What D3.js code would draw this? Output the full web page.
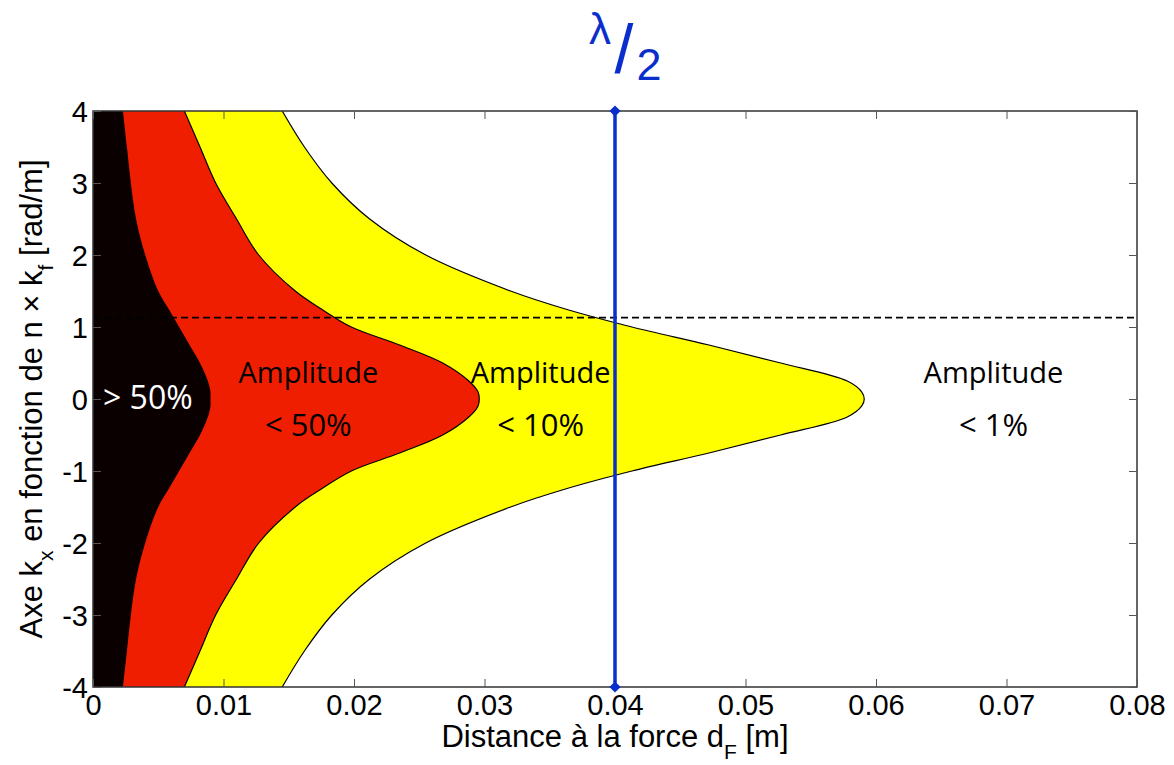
<!DOCTYPE html>
<html><head><meta charset="utf-8">
<script src="https://cdn.jsdelivr.net/npm/d3@7"></script>
<style>body{margin:0;background:#fff}svg{display:block}</style>
</head><body>
<svg id="c" width="1174" height="765"></svg>
<script>
// ---- data ----
const kValues = [-4,-3.5,-3,-2.5,-2,-1.5,-1.25,-1,-0.75,-0.5,-0.25,-0.1,0,0.1,0.25,0.5,0.75,1,1.25,1.5,2,2.5,3,3.5,4];
// boundary between >50% (black) and <50% (red)
const border50 = [0.0023,0.0026,0.0029,0.0033,0.0040,0.0050,0.0058,0.0066,0.0074,0.0082,0.0088,0.0090,0.0090,0.0090,0.0088,0.0082,0.0074,0.0066,0.0058,0.0050,0.0040,0.0033,0.0029,0.0026,0.0023];
// boundary between <50% (red) and <10% (yellow)
const border10 = [0.0070,0.0082,0.0094,0.0110,0.0127,0.0155,0.0175,0.0198,0.0235,0.0268,0.0288,0.0295,0.0296,0.0295,0.0288,0.0268,0.0235,0.0198,0.0175,0.0155,0.0127,0.0110,0.0094,0.0082,0.0070];
// boundary between <10% (yellow) and <1% (white)
const border1 = [0.0145,0.0162,0.0183,0.0212,0.0255,0.0320,0.0362,0.0413,0.0472,0.0527,0.0578,0.0589,0.0591,0.0589,0.0578,0.0527,0.0472,0.0413,0.0362,0.0320,0.0255,0.0212,0.0183,0.0162,0.0145];
const xTicks = [0,0.01,0.02,0.03,0.04,0.05,0.06,0.07,0.08];
const yTicks = [-4,-3,-2,-1,0,1,2,3,4];
const halfWave = 0.04;      // lambda/2
const kLimit = 1.13;        // dashed line
const regionLabels = [
  {x:0.0042, lines:["> 50%"], color:"#fff"},
  {x:0.0165, lines:["Amplitude","< 50%"], color:"#000"},
  {x:0.0343, lines:["Amplitude","< 10%"], color:"#000"},
  {x:0.0690, lines:["Amplitude","< 1%"], color:"#000"}
];

// ---- layout ----
const L=93, R=1137, T=111, B=687;
const svg = d3.select("#c");
const x = d3.scaleLinear().domain([0,0.08]).range([L,R]);
const y = d3.scaleLinear().domain([-4,4]).range([B,T]);

const defs = svg.append("defs");
defs.append("clipPath").attr("id","plot").append("rect").attr("x",L).attr("y",T).attr("width",R-L).attr("height",B-T);
const g = svg.append("g").attr("clip-path","url(#plot)");

function region(vals){
  return d3.area().curve(d3.curveCatmullRom.alpha(0.5))
    .y(d=>y(d.k)).x0(x(0)).x1(d=>x(d.v))(kValues.map((k,i)=>({k,v:vals[i]})));
}
function edge(vals){
  return d3.line().curve(d3.curveCatmullRom.alpha(0.5))
    .y(d=>y(d.k)).x(d=>x(d.v))(kValues.map((k,i)=>({k,v:vals[i]})));
}
g.append("path").attr("d",region(border1)).attr("fill","#ffff00");
g.append("path").attr("d",region(border10)).attr("fill","#f01e00");
g.append("path").attr("d",region(border50)).attr("fill","#0b0000");
g.append("path").attr("d",edge(border1)).attr("fill","none").attr("stroke","#000").attr("stroke-width",1.2);
g.append("path").attr("d",edge(border10)).attr("fill","none").attr("stroke","#000").attr("stroke-width",1.2);

// dashed line
g.append("line").attr("x1",x(0)).attr("x2",x(0.08)).attr("y1",y(kLimit)).attr("y2",y(kLimit))
  .attr("stroke","#000").attr("stroke-width",1.6).attr("stroke-dasharray","7,4");

// axes box and ticks
const tickCol="#555";
const axFont="Liberation Sans, Arial, sans-serif";
const ax = svg.append("g");
ax.append("rect").attr("x",L).attr("y",T).attr("width",R-L).attr("height",B-T)
  .attr("fill","none").attr("stroke","#333").attr("stroke-width",1.5);
const axB = ax.append("g").attr("transform",`translate(0,${B})`)
  .call(d3.axisBottom(x).tickValues(xTicks).tickSize(-8).tickPadding(7).tickFormat(d=>d===0?"0":d3.format(".2f")(d)));
const axT = ax.append("g").attr("transform",`translate(0,${T})`)
  .call(d3.axisTop(x).tickValues(xTicks).tickSize(-8).tickFormat(""));
const axL = ax.append("g").attr("transform",`translate(${L},0)`)
  .call(d3.axisLeft(y).tickValues(yTicks).tickSize(-8).tickPadding(5).tickFormat(d=>String(d)));
const axR = ax.append("g").attr("transform",`translate(${R},0)`)
  .call(d3.axisRight(y).tickValues(yTicks).tickSize(-8).tickFormat(""));
ax.selectAll(".domain").remove();
ax.selectAll(".tick line").attr("stroke",tickCol).attr("stroke-width",1);
ax.selectAll(".tick text").attr("font-family",axFont).attr("font-size",29).attr("fill","#000");
axB.selectAll(".tick text").attr("dy","0.71em");
axL.selectAll(".tick text").attr("dy","0.36em");

// axis titles
svg.append("text").attr("x",(L+R)/2).attr("y",747).attr("text-anchor","middle")
  .attr("font-family",axFont).attr("font-size",31)
  .call(t=>{t.append("tspan").text("Distance à la force d");
    t.append("tspan").attr("font-size",21).attr("dy",12).text("F");
    t.append("tspan").attr("dy",-12).text(" [m]");});
svg.append("text").attr("transform",`translate(42,${(T+B)/2}) rotate(-90)`).attr("text-anchor","middle")
  .attr("font-family",axFont).attr("font-size",31)
  .call(t=>{t.append("tspan").text("Axe k");
    t.append("tspan").attr("font-size",21).attr("dy",11).text("x");
    t.append("tspan").attr("dy",-11).text(" en fonction de n \u00d7 k");
    t.append("tspan").attr("font-size",21).attr("dy",11).text("f");
    t.append("tspan").attr("dy",-11).text(" [rad/m]");});

// region labels
const lblFont="Open Sans, Noto Sans, sans-serif";
regionLabels.forEach(r=>{
  const t = svg.append("text").attr("text-anchor","middle").attr("font-family",lblFont).attr("fill",r.color);
  if(r.lines.length===1){
    t.attr("x",x(r.x)).attr("y",y(0)+10).attr("font-size",32).text(r.lines[0]);
  } else {
    t.append("tspan").attr("x",x(r.x)).attr("y",y(0)-16).attr("font-size",29).text(r.lines[0]);
    t.append("tspan").attr("x",x(r.x)).attr("y",y(0)+37).attr("font-size",31).text(r.lines[1]);
  }
});

// lambda/2 line
const blue="#0a2ecb";
svg.append("line").attr("x1",x(halfWave)).attr("x2",x(halfWave)).attr("y1",y(4)).attr("y2",y(-4))
  .attr("stroke",blue).attr("stroke-width",3.5);
[4,-4].forEach(k=>{
  svg.append("path").attr("d",d3.symbol(d3.symbolDiamond2,80)())
    .attr("transform",`translate(${x(halfWave)},${y(k)})`).attr("fill",blue);
});
const lamFont="Liberation Sans, Arial, sans-serif";
const lab = svg.append("g").attr("fill",blue).attr("font-family",lamFont);
lab.append("text").attr("x",x(halfWave)-15).attr("y",44).attr("text-anchor","middle").attr("font-size",44).text("λ");
lab.append("text").attr("x",x(halfWave)+9).attr("y",73).attr("text-anchor","middle").attr("font-size",68).text("/");
lab.append("text").attr("x",x(halfWave)+34).attr("y",80).attr("text-anchor","middle").attr("font-size",45).text("2");
</script>
</body></html>
